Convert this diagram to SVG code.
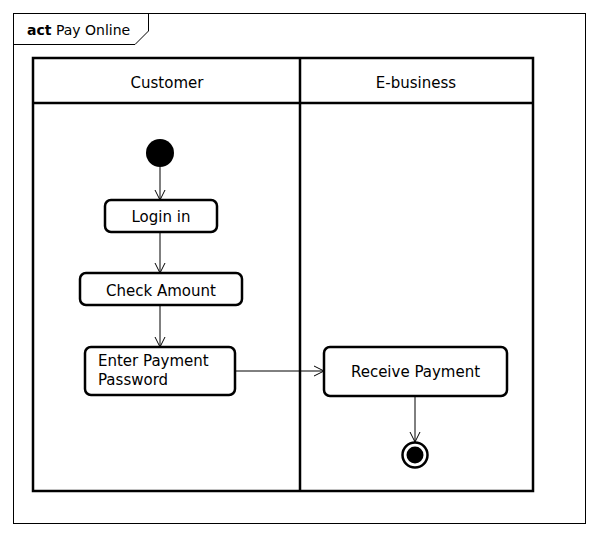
<svg xmlns="http://www.w3.org/2000/svg" width="598" height="537" viewBox="0 0 598 537">
<defs>
<style>
text{font-family:"DejaVu Sans","Liberation Sans",sans-serif;font-size:15px;fill:#000}
.title{font-size:14px}
.frame{fill:none;stroke:#000;stroke-width:1}
.lane{fill:none;stroke:#000;stroke-width:2.5}
.act{fill:#fff;stroke:#000;stroke-width:2.5}
.edge{fill:none;stroke:#000;stroke-width:1}
</style>
<marker id="arr" viewBox="0 0 12 12" refX="11" refY="6" markerWidth="12" markerHeight="12" markerUnits="userSpaceOnUse" orient="auto">
<path d="M1,1 L11,6 L1,11" fill="none" stroke="#000" stroke-width="1"/>
</marker>
</defs>
<rect width="598" height="537" fill="#fff"/>
<g id="frame">
<rect class="frame" x="13.5" y="13.5" width="572" height="510"/>
<path class="frame" d="M13.5,44.5 H135 L148.5,31 V13.5"/>
<text class="title" x="27" y="35"><tspan font-weight="bold">act</tspan> Pay Online</text>
</g>
<g id="lanes">
<rect class="lane" x="33" y="58" width="500" height="433"/>
<line class="lane" x1="33" y1="103" x2="533" y2="103"/>
<line class="lane" x1="300" y1="58" x2="300" y2="491"/>
<text x="167" y="88" text-anchor="middle">Customer</text>
<text x="416" y="88" text-anchor="middle">E-business</text>
</g>
<g id="connectors">
<line class="edge" x1="160" y1="167" x2="160" y2="200" marker-end="url(#arr)"/>
<line class="edge" x1="160" y1="232" x2="160" y2="273" marker-end="url(#arr)"/>
<line class="edge" x1="160" y1="305" x2="160" y2="347" marker-end="url(#arr)"/>
<line class="edge" x1="235" y1="371" x2="324" y2="371" marker-end="url(#arr)"/>
<line class="edge" x1="415" y1="396" x2="415" y2="442" marker-end="url(#arr)"/>
</g>
<g id="initial">
<circle cx="160" cy="153" r="14" fill="#000"/>
</g>
<g id="login">
<rect class="act" x="105" y="200" width="112" height="32" rx="6"/>
<text x="161" y="222" text-anchor="middle">Login in</text>
</g>
<g id="check">
<rect class="act" x="80" y="273" width="162" height="32" rx="6"/>
<text x="161" y="296" text-anchor="middle">Check Amount</text>
</g>
<g id="enter">
<rect class="act" x="85" y="347" width="150" height="48" rx="6"/>
<text x="98" y="366">Enter Payment</text>
<text x="98" y="385">Password</text>
</g>
<g id="receive">
<rect class="act" x="324" y="347" width="183" height="49" rx="6"/>
<text x="415.5" y="377" text-anchor="middle">Receive Payment</text>
</g>
<g id="final">
<circle cx="415" cy="455" r="12.5" fill="#fff" stroke="#000" stroke-width="2.5"/>
<circle cx="415" cy="455" r="8.5" fill="#000"/>
</g>
</svg>
